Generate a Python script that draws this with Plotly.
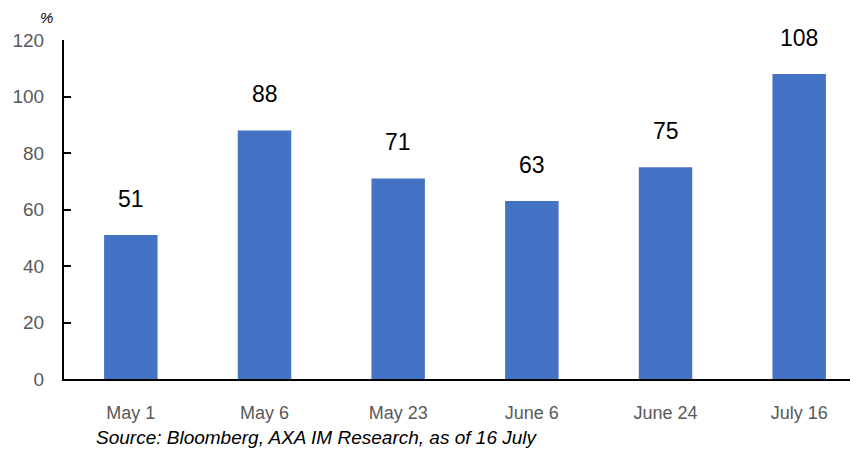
import plotly.graph_objects as go

categories = ["May 1", "May 6", "May 23", "June 6", "June 24", "July 16"]
values = [51, 88, 71, 63, 75, 108]
y_ticks = [0, 20, 40, 60, 80, 100, 120]

FONT = "Liberation Sans, Arial, sans-serif"

fig = go.Figure()
fig.add_trace(go.Bar(x=categories, y=values, marker_color="#4472C4",
                     marker_line_width=0, width=0.4))

for c, v in zip(categories, values):
    fig.add_annotation(x=c, y=v, text=str(v), showarrow=False, yshift=36,
                       font=dict(family=FONT, size=23, color="#000000"))

fig.add_annotation(xref="paper", yref="paper", x=-0.022, y=1.035, xanchor="center",
                   yanchor="bottom", text="<i>%</i>", showarrow=False,
                   font=dict(family=FONT, size=15, color="#000000"))
fig.add_annotation(xref="paper", yref="paper", x=0.038, y=-0.172, xanchor="left",
                   yanchor="middle", text="<i>Source: Bloomberg, AXA IM Research, as of 16 July</i>",
                   showarrow=False, font=dict(family=FONT, size=19, color="#000000"))

fig.update_layout(
    width=850, height=441,
    margin=dict(l=56, r=0, t=32, b=70),
    paper_bgcolor="white", plot_bgcolor="white",
    showlegend=False,
    xaxis=dict(range=[-0.5, 5.44], showline=True, linecolor="#000000", linewidth=2,
               ticks="", showgrid=False, ticklabelstandoff=16, automargin=False,
               tickfont=dict(family=FONT, size=18, color="#595959")),
    yaxis=dict(range=[0, 120], tickvals=y_ticks, showline=True, linecolor="#000000",
               linewidth=2, ticks="inside", ticklen=7, tickwidth=2, tickcolor="#000000",
               showgrid=False, zeroline=False, ticklabelstandoff=14, automargin=False,
               tickfont=dict(family=FONT, size=19, color="#595959")),
)

fig.write_html("out.html")
